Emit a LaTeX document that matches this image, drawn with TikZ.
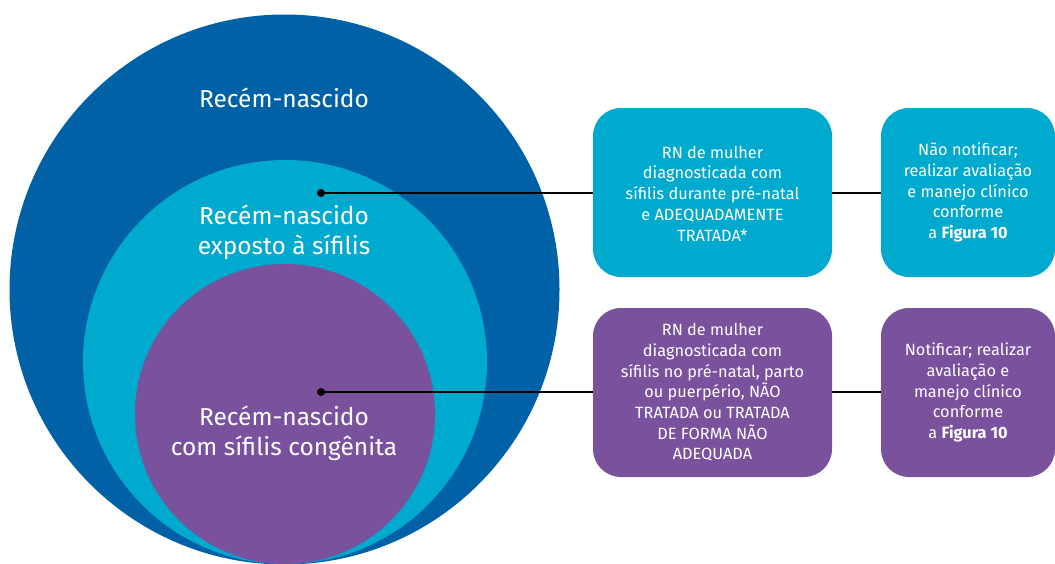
\documentclass[tikz,border=0pt]{standalone}
\usepackage{fontspec}
\setmainfont{Fira Sans}
\definecolor{dblue}{RGB}{0,97,166}
\definecolor{lblue}{RGB}{0,169,206}
\definecolor{purp}{RGB}{122,81,157}
\tikzset{
  ring/.style={circle, inner sep=0pt},
  bigtxt/.style={text=white, align=center, font=\fontsize{24.5}{30}\selectfont},
  rbox/.style={rounded corners=28pt, inner sep=0pt, text=white, align=center,
               font=\fontsize{16.3}{20.7}\selectfont},
  dotnode/.style={circle, fill=black, inner sep=0pt, minimum size=8pt},
  conn/.style={line width=2pt, black}
}
\begin{document}
\begin{tikzpicture}[x=1pt,y=-1pt]
\useasboundingbox (0,0) rectangle (1055,563);
% circles
\node[ring, fill=dblue, minimum size=550pt] (c1) at (284.5,289.5) {};
\node[ring, fill=lblue, minimum size=404pt] (c2) at (285,362) {};
\node[ring, fill=purp, minimum size=300pt] (c3) at (285,414) {};
% circle labels
\node[bigtxt] (t1) at (284,98) {Recém-nascido};
\node[bigtxt] (t2) at (284,232) {Recém-nascido\\exposto à sífilis};
\node[bigtxt] (t3) at (284,433) {Recém-nascido\\com sífilis congênita};
% boxes
\path[fill=lblue, rounded corners=28pt] (593,108) rectangle (832,277);
\node[rbox, minimum width=239pt, minimum height=169pt] (b1) at (712.5,193.5) {RN de mulher\\diagnosticada com\\sífilis durante pré-natal\\e ADEQUADAMENTE\\TRATADA*};
\path[fill=lblue, rounded corners=28pt] (881,108) rectangle (1055,277);
\node[rbox, minimum width=174pt, minimum height=169pt] (b2) at (968,192.5) {Não notificar;\\realizar avaliação\\e manejo clínico\\conforme\\a \textbf{Figura 10}};
\path[fill=purp, rounded corners=28pt] (593,308) rectangle (832,477);
\node[rbox, minimum width=239pt, minimum height=169pt] (b3) at (712.5,392.5) {RN de mulher\\diagnosticada com\\sífilis no pré-natal, parto\\ou puerpério, NÃO\\TRATADA ou TRATADA\\DE FORMA NÃO\\ADEQUADA};
\path[fill=purp, rounded corners=28pt] (881,308) rectangle (1055,477);
\node[rbox, minimum width=174pt, minimum height=169pt] (b4) at (968,392.5) {Notificar; realizar\\avaliação e\\manejo clínico\\conforme\\a \textbf{Figura 10}};
% dots and connectors
\node[dotnode] (d1) at (321,193) {};
\node[dotnode] (d2) at (321,392) {};
\draw[conn] (d1.center) -- (b1.west |- d1.center);
\draw[conn] (b1.east |- d1.center) -- (b2.west |- d1.center);
\draw[conn] (d2.center) -- (b3.west |- d2.center);
\draw[conn] (b3.east |- d2.center) -- (b4.west |- d2.center);
\end{tikzpicture}
\end{document}
